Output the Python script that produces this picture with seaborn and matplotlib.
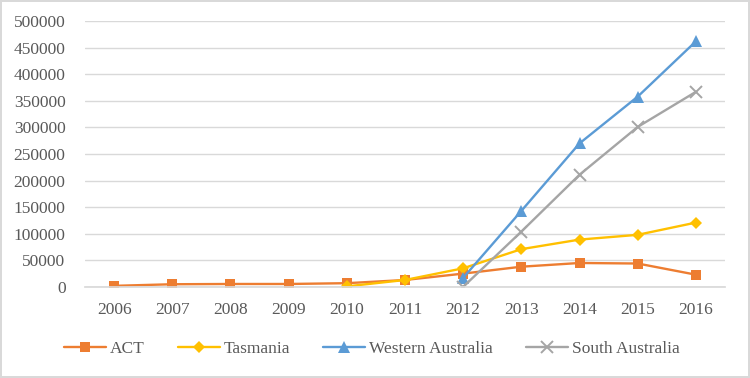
import numpy as np
import pandas as pd
import matplotlib
matplotlib.use("Agg")
import matplotlib.pyplot as plt
import seaborn as sns

years = [2006, 2007, 2008, 2009, 2010, 2011, 2012, 2013, 2014, 2015, 2016]
act = [2000, 5000, 5500, 5500, 7000, 13000, 25000, 38000, 45000, 44000, 23000]
tasmania = [np.nan, np.nan, np.nan, np.nan, 1000, 13000, 35000, 71000, 89000, 98000, 121000]
western_australia = [np.nan] * 6 + [17000, 143000, 270000, 358000, 462000]
south_australia = [np.nan] * 6 + [0, 104000, 211000, 301000, 367000]

series = {
    "ACT": act,
    "Tasmania": tasmania,
    "Western Australia": western_australia,
    "South Australia": south_australia,
}

sns.set_theme(style="white")
plt.rcParams['font.family'] = ['Liberation Serif', 'DejaVu Serif']

palette = {"ACT": "#ED7D31", "Tasmania": "#FFC000",
           "Western Australia": "#5B9BD5", "South Australia": "#A5A5A5"}
markers = {"ACT": "s", "Tasmania": "D", "Western Australia": "^", "South Australia": "x"}
msizes = {"ACT": 7.5, "Tasmania": 6.5, "Western Australia": 8.5, "South Australia": 8.5}

fig = plt.figure(figsize=(7.5, 3.78), dpi=100)
fig.patch.set_edgecolor("#D9D9D9")
fig.patch.set_linewidth(1.5)
ax = fig.add_axes([0.1133, 0.241, 0.8533, 0.703])

for name, vals in series.items():
    d = pd.DataFrame({"Year": years, "Value": vals}).dropna()
    m = markers[name]
    kw = dict(markeredgewidth=1.4, markeredgecolor=palette[name]) if m == "x" else dict(markeredgewidth=0)
    sns.lineplot(data=d, x="Year", y="Value", color=palette[name], marker=m,
                 markersize=msizes[name], linewidth=1.7, label=name, ax=ax, **kw)

ax.set_xlim(2005.5, 2016.5)
ax.set_ylim(0, 500000)
ax.set_xticks(years)
ax.set_xticklabels([str(y) for y in years])
ax.set_yticks(range(0, 500001, 50000))
ax.set_yticklabels([str(v) for v in range(0, 500001, 50000)])
ax.yaxis.grid(True, color="#D9D9D9", linewidth=1)
ax.xaxis.grid(False)
ax.set_axisbelow(True)
for s in ["top", "right", "left"]:
    ax.spines[s].set_visible(False)
ax.spines["bottom"].set_color("#D9D9D9")
ax.tick_params(axis="x", length=0, labelsize=12.5, colors="#595959", pad=11)
ax.tick_params(axis="y", length=0, labelsize=12.5, colors="#595959", pad=14)
ax.set_xlabel("")
ax.set_ylabel("")

handles, labels = ax.get_legend_handles_labels()
ax.get_legend().remove()
fig.legend(handles, labels, loc="center", bbox_to_anchor=(0.496, 0.077),
           ncol=4, frameon=False, fontsize=12.5, labelcolor="#595959",
           columnspacing=1.9, handlelength=2.4, handletextpad=0.25)

fig.savefig("out.png", dpi=100)
